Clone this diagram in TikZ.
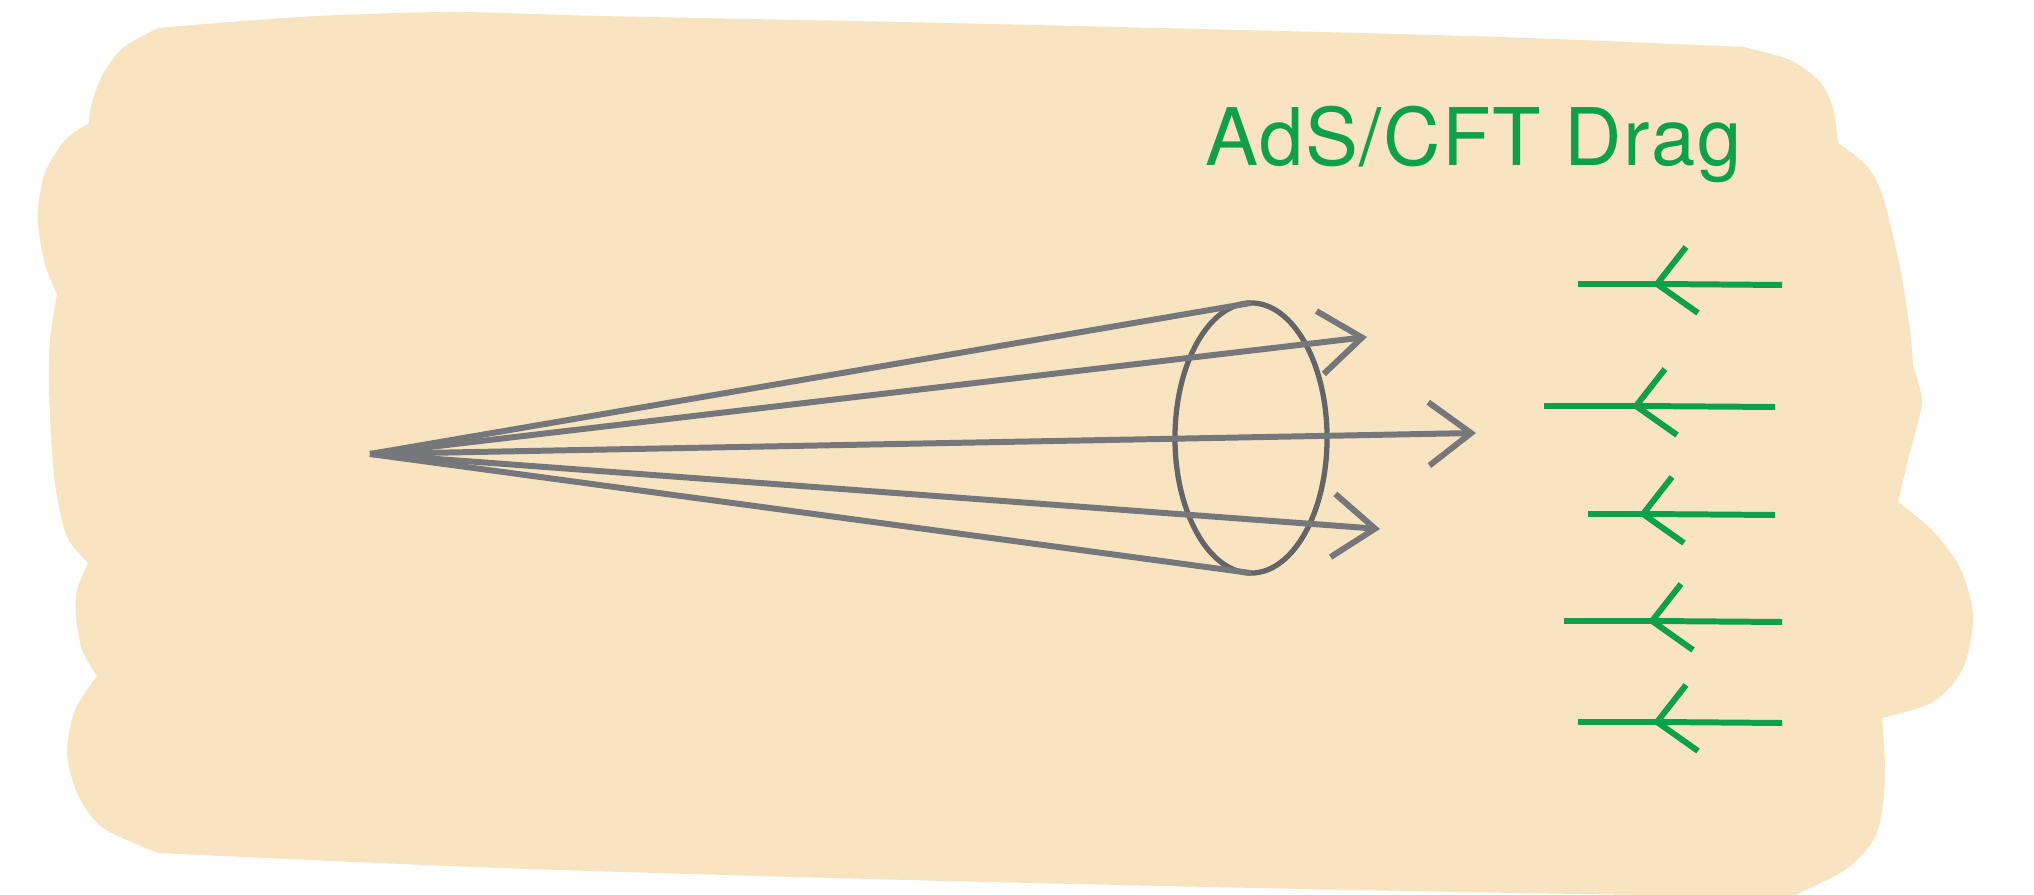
\documentclass[tikz,border=0pt]{standalone}
\usepackage{fontspec}
\newfontfamily\dragfont[LetterSpace=2]{TeX Gyre Heros}
\usetikzlibrary{arrows.meta,shapes.geometric}
\definecolor{blob}{RGB}{248,228,192}
\definecolor{fan}{RGB}{118,119,123}
\definecolor{ringgray}{RGB}{100,101,104}
\definecolor{drag}{RGB}{16,160,74}
\tikzset{
  ray/.style={draw=fan, line width=1.7pt, -{Straight Barb[length=12pt,width=18pt]}},
  cone/.style={draw=fan, line width=1.7pt},
  ring/.style={ellipse, draw=ringgray, line width=1.5pt, minimum width=1.52cm,
    minimum height=2.7cm, inner sep=0pt, outer sep=0pt},
  flow/.style={draw=drag, line width=1.7pt},
}

\begin{document}
\begin{tikzpicture}[x=0.01cm, y=-0.01cm]
    \useasboundingbox (0,0) rectangle (2034,895);
    \fill[blob]
      plot[smooth] coordinates {(89,123) (92,102) (104,72) (124,47) (158,28)}
      -- plot[smooth] coordinates {(158,28) (300,17) (450,12) (600,16) (900,22) (1200,29) (1500,37) (1743,47)}
      -- plot[smooth] coordinates {(1743,47) (1790,60) (1820,82) (1833,108) (1838,143)}
      -- plot[smooth] coordinates {(1838,143) (1867,166) (1883,197) (1900,268) (1910,330) (1913,365)}
      -- plot[smooth] coordinates {(1913,365) (1922,400) (1916,430) (1908,460) (1898,502)}
      -- plot[smooth] coordinates {(1898,502) (1933,531) (1960,568) (1973,616) (1963,668) (1933,702) (1882,718)}
      -- plot[smooth] coordinates {(1882,718) (1885,780) (1876,835) (1845,870) (1790,897)}
      -- plot[smooth] coordinates {(1790,897) (1400,891) (908,880) (500,868) (158,853)}
      -- plot[smooth] coordinates {(158,853) (103,828) (78,795) (67,753) (75,710) (97,676)}
      -- plot[smooth] coordinates {(97,676) (82,650) (76,616) (77,590) (88,563)}
      -- plot[smooth] coordinates {(88,563) (67,537) (56,491) (52,450) (49,388) (50,340) (57,294)}
      -- plot[smooth] coordinates {(57,294) (45,265) (38,225) (39,200) (46,170) (65,140) (89,123)}
      -- cycle;

    \node[anchor=base west, inner sep=0pt, text=drag, font=\dragfont\fontsize{22.6}{27}\selectfont] (title) at (1205,166) {AdS/CFT Drag};

    \coordinate (apex) at (370,454);
    \node[ring] (disc) at (1251,438) {};
    \draw[cone] (apex) -- (disc.north);
    \draw[cone] (apex) -- (disc.south);
    \foreach \x/\y [count=\i] in {1367/337,1476/433,1380/529} {
        \coordinate (tip\i) at (\x,\y);
        \draw[ray] (apex) -- (tip\i);
    }

    \foreach \xl/\xv/\xr/\y [count=\i] in {1578/1657/1782/284,1544/1636/1775/406,1588/1643/1775/514,1564/1652/1782/621,1578/1657/1782/722} {
        \coordinate (left\i) at (\xl,\y);
        \coordinate (kink\i) at (\xv,\y);
        \coordinate (right\i) at (\xr,\y+1);
        \draw[flow] (right\i) -- (kink\i) -- (left\i);
        \draw[flow] (kink\i) ++(29,-37) -- (kink\i) -- ++(41,29);
    }
\end{tikzpicture}
\end{document}
